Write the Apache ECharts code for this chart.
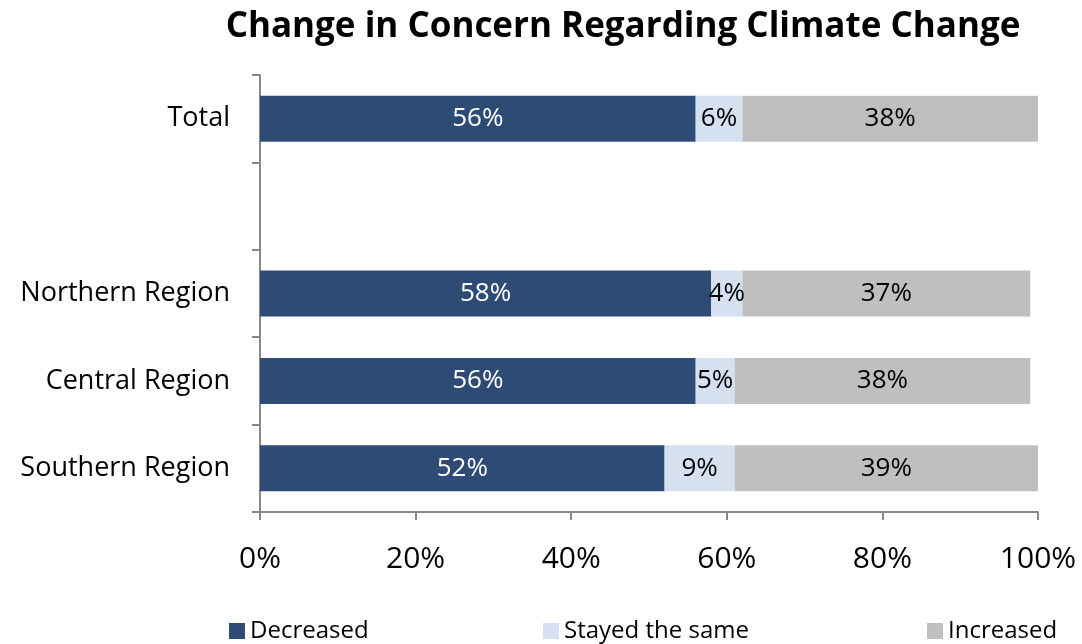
<!DOCTYPE html>
<html><head><meta charset="utf-8">
<script src="https://cdn.jsdelivr.net/npm/echarts@6/dist/echarts.min.js"></script>
<style>html,body{margin:0;padding:0;background:#fff}#c{width:1082px;height:644px}</style>
</head><body><div id="c"></div>
<script>
const categories = ['Total', '', 'Northern Region', 'Central Region', 'Southern Region'];
const decreased = [56, null, 58, 56, 52];
const stayedSame = [6, null, 4, 5, 9];
const increased = [38, null, 37, 38, 39];
const xTicks = [0, 20, 40, 60, 80, 100];
const seriesNames = ['Decreased', 'Stayed the same', 'Increased'];
const colors = ['#2E4B76', '#D5E0F0', '#BFBFBF'];
const FONT = '"Open Sans", "Noto Sans", sans-serif';

const chart = echarts.init(document.getElementById('c'), null, {renderer: 'canvas'});
function mk(name, data, color, labelColor) {
  return {
    name, type: 'bar', stack: 'a', data, barWidth: 46,
    itemStyle: {color},
    label: {show: true, position: 'inside', color: labelColor, fontSize: 26, fontFamily: FONT,
      formatter: p => p.value == null ? '' : p.value + '%'}
  };
}
function legend(name, left) {
  return {data: [name], left, top: 614, itemWidth: 16, itemHeight: 16, itemGap: 7,
    textStyle: {fontSize: 24, fontFamily: FONT, color: '#000'}, icon: 'rect', selectedMode: false};
}
chart.setOption({
  animation: false,
  title: {text: 'Change in Concern Regarding Climate Change', left: 618, top: 5, textAlign: 'center',
    textStyle: {fontSize: 35, fontWeight: 'bold', fontFamily: FONT, color: '#000'}},
  color: colors,
  legend: [legend(seriesNames[0], 224), legend(seriesNames[1], 538), legend(seriesNames[2], 922)],
  grid: {left: 260, right: 44, top: 75, bottom: 132, containLabel: false},
  xAxis: {type: 'value', min: 0, max: 100, interval: 20,
    axisLine: {show: true, lineStyle: {color: '#888', width: 2}},
    axisTick: {show: true, length: 8, lineStyle: {color: '#888', width: 2}},
    splitLine: {show: false},
    axisLabel: {fontSize: 30, fontFamily: FONT, color: '#000', margin: 32,
      formatter: v => xTicks.includes(v) ? v + '%' : ''}},
  yAxis: {type: 'category', data: categories, inverse: true,
    axisLine: {show: true, lineStyle: {color: '#888', width: 2}},
    axisTick: {show: true, length: 8, lineStyle: {color: '#888', width: 2}},
    axisLabel: {fontSize: 27, fontFamily: FONT, color: '#000', margin: 30}},
  series: [
    mk(seriesNames[0], decreased, colors[0], '#fff'),
    mk(seriesNames[1], stayedSame, colors[1], '#000'),
    mk(seriesNames[2], increased, colors[2], '#000')
  ]
});
</script></body></html>
